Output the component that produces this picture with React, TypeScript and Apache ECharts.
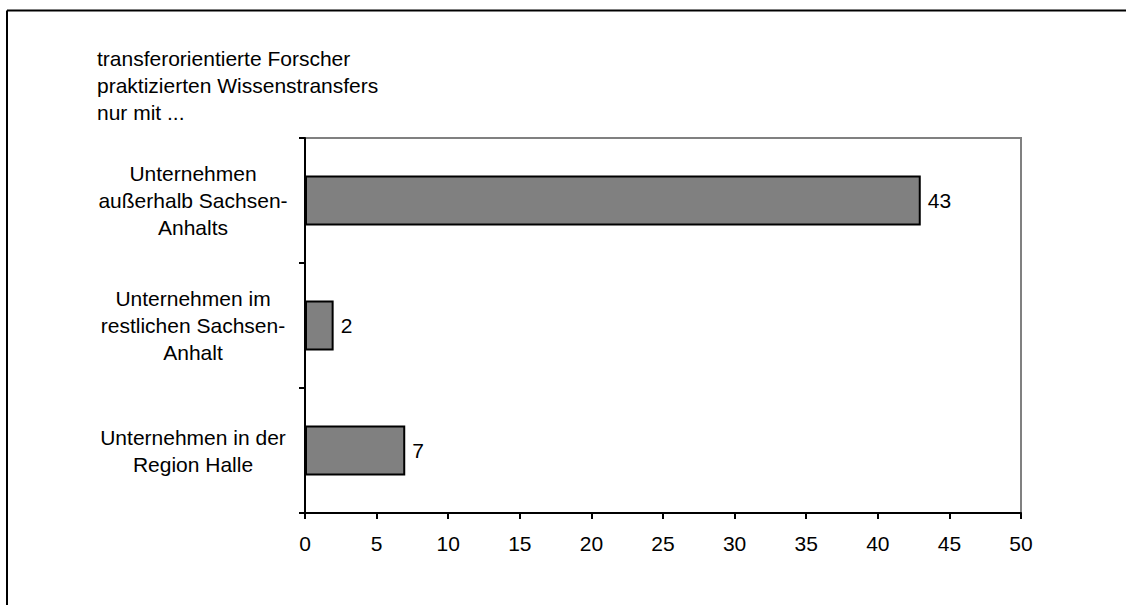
import React, { useEffect, useRef } from "react";
import * as echarts from "echarts";

const categories = [
  "Unternehmen in der\nRegion Halle",
  "Unternehmen im\nrestlichen Sachsen-\nAnhalt",
  "Unternehmen\naußerhalb Sachsen-\nAnhalts",
];
const values = [7, 2, 43];
const titleLines = [
  "transferorientierte Forscher",
  "praktizierten Wissenstransfers",
  "nur mit ...",
];

const FONT = "Liberation Sans, Arial, sans-serif";

export default function App() {
  const ref = useRef<HTMLDivElement>(null);

  useEffect(() => {
    if (!ref.current) return;
    const chart = echarts.init(ref.current, undefined, { renderer: "svg" });
    chart.setOption({
      animation: false,
      backgroundColor: "#ffffff",
      textStyle: { fontFamily: FONT },
      grid: {
        left: 305,
        top: 138,
        right: 105,
        bottom: 92,
        show: true,
        borderColor: "#808080",
        borderWidth: 2,
        backgroundColor: "transparent",
      },
      xAxis: {
        type: "value",
        min: 0,
        max: 50,
        interval: 5,
        splitLine: { show: false },
        axisLine: { show: true, lineStyle: { color: "#000", width: 2 } },
        axisTick: { show: true, length: 6, lineStyle: { color: "#000", width: 2 } },
        axisLabel: { color: "#000", fontSize: 21, fontFamily: FONT, margin: 20 },
      },
      yAxis: {
        type: "category",
        data: categories,
        axisLine: { show: true, lineStyle: { color: "#000", width: 2 } },
        axisTick: { show: true, length: 6, lineStyle: { color: "#000", width: 2 } },
        axisLabel: {
          color: "#000",
          fontSize: 21,
          fontFamily: FONT,
          align: "center",
          margin: 112,
          lineHeight: 27,
        },
      },
      series: [
        {
          type: "bar",
          data: values,
          barWidth: 50,
          itemStyle: { color: "#808080", borderColor: "#000", borderWidth: 2 },
          label: {
            show: true,
            position: "right",
            distance: 7,
            color: "#000",
            fontSize: 21,
            fontFamily: FONT,
          },
        },
      ],
      graphic: [
        {
          type: "text",
          left: 97,
          top: 45,
          style: {
            text: titleLines.join("\n"),
            fontSize: 21,
            lineHeight: 27,
            fontFamily: FONT,
            fill: "#000",
          },
        },
        {
          type: "line",
          shape: { x1: 7, y1: 10.5, x2: 1126, y2: 10.5 },
          style: { stroke: "#000", lineWidth: 2 },
        },
        {
          type: "line",
          shape: { x1: 7, y1: 10.5, x2: 7, y2: 605 },
          style: { stroke: "#000", lineWidth: 2 },
        },
      ],
    });
    return () => chart.dispose();
  }, []);

  return (
    <div
      ref={ref}
      style={{ position: "fixed", left: 0, top: 0, width: 1126, height: 605, background: "#fff" }}
    />
  );
}
